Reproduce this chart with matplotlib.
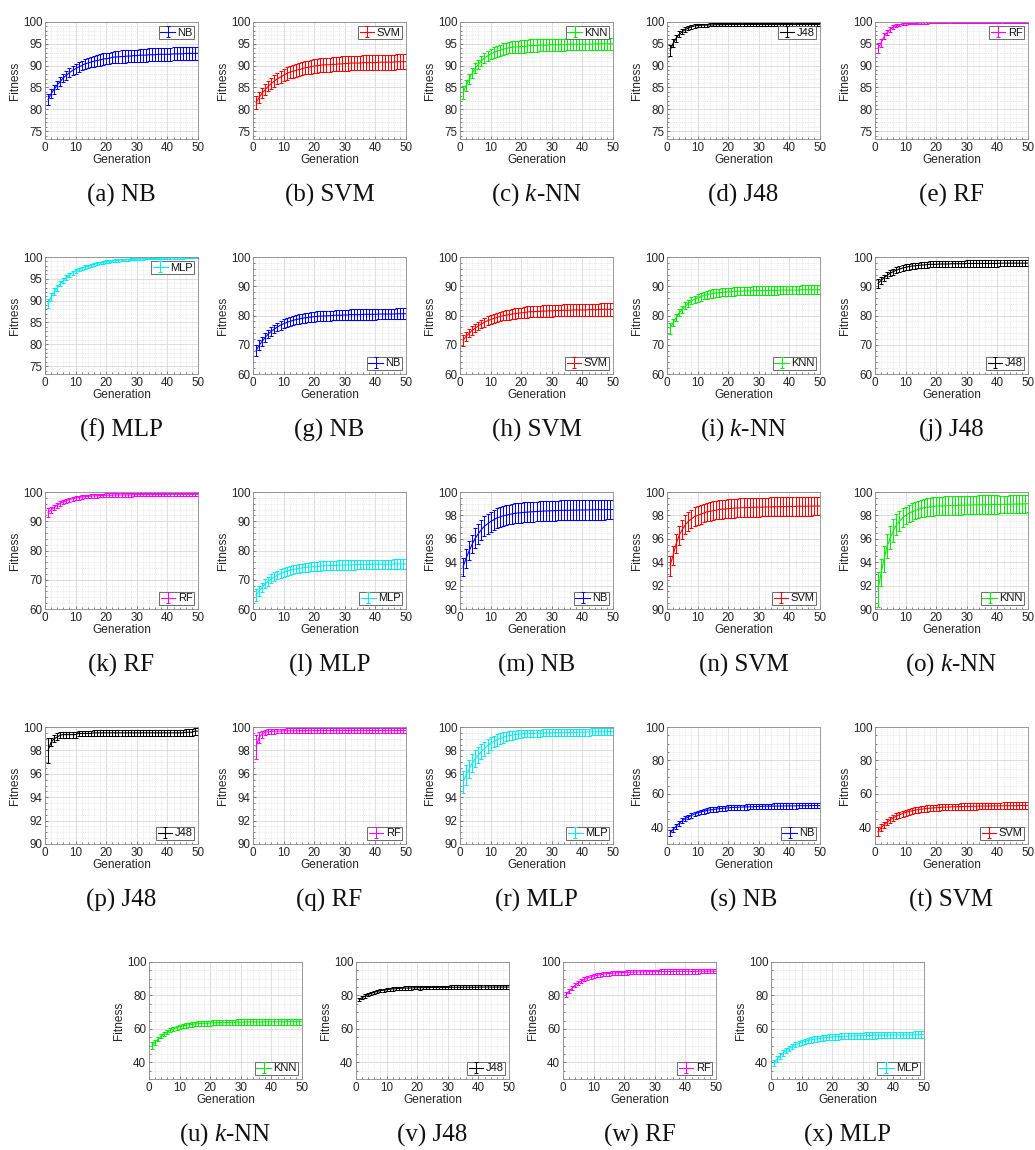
import matplotlib
matplotlib.use("Agg")
import matplotlib.pyplot as plt
from matplotlib.ticker import MultipleLocator
import numpy as np

plt.rcParams['font.family'] = ['Liberation Sans', 'DejaVu Sans']
plt.rcParams['mathtext.fontset'] = 'custom'
plt.rcParams['mathtext.it'] = 'Liberation Serif:italic'
plt.rcParams['mathtext.rm'] = 'Liberation Serif'

generations = list(range(1, 51))

# ---- mean fitness and spread per generation, one pair per panel ----
a_mean = [82.2,83.6,84.6,85.6,86.4,87.2,87.8,88.4,88.9,89.3,89.7,90.0,90.4,90.6,90.8,91.0,91.2,91.3,91.5,91.6,91.7,91.9,92.0,92.0,92.1,92.1,92.2,92.2,92.3,92.3,92.4,92.4,92.4,92.5,92.5,92.5,92.6,92.6,92.6,92.6,92.6,92.7,92.7,92.7,92.7,92.8,92.8,92.8,92.8,92.8]
a_err = [1.3,1.1,1.0,1.0,1.0,1.0,1.0,1.1,1.1,1.1,1.1,1.1,1.2,1.2,1.2,1.2,1.3,1.3,1.3,1.3,1.3,1.3,1.4,1.4,1.4,1.4,1.4,1.4,1.4,1.4,1.5,1.5,1.5,1.5,1.5,1.5,1.5,1.5,1.5,1.5,1.5,1.5,1.5,1.5,1.5,1.5,1.5,1.5,1.5,1.5]

b_mean = [81.5,82.7,83.7,84.5,85.3,85.9,86.5,87.0,87.4,87.8,88.2,88.5,88.7,88.9,89.1,89.3,89.5,89.6,89.8,89.9,90.0,90.1,90.2,90.2,90.2,90.3,90.3,90.4,90.4,90.5,90.5,90.6,90.6,90.6,90.6,90.7,90.7,90.7,90.7,90.7,90.8,90.8,90.8,90.8,90.8,90.8,90.9,90.9,90.9,90.9]
b_err = [1.5,1.3,1.2,1.2,1.2,1.3,1.3,1.3,1.4,1.4,1.4,1.4,1.5,1.5,1.5,1.5,1.5,1.5,1.6,1.6,1.6,1.6,1.6,1.6,1.6,1.6,1.6,1.6,1.7,1.7,1.7,1.7,1.7,1.7,1.7,1.7,1.7,1.7,1.7,1.7,1.7,1.7,1.7,1.7,1.7,1.7,1.7,1.7,1.7,1.7]

c_mean = [83.8,85.5,86.9,88.3,89.4,90.3,91.1,91.8,92.2,92.7,93.0,93.3,93.5,93.8,93.9,94.1,94.2,94.3,94.3,94.4,94.4,94.5,94.6,94.6,94.6,94.7,94.7,94.7,94.7,94.8,94.8,94.8,94.8,94.8,94.9,94.9,94.9,94.9,94.9,94.9,94.9,94.9,94.9,95.0,95.0,95.0,95.0,95.0,95.0,95.0]
c_err = [1.5,1.2,1.1,1.1,1.1,1.1,1.2,1.2,1.2,1.2,1.3,1.3,1.3,1.3,1.3,1.3,1.4,1.4,1.4,1.4,1.4,1.4,1.4,1.4,1.4,1.4,1.4,1.4,1.4,1.4,1.4,1.4,1.4,1.4,1.4,1.4,1.4,1.4,1.4,1.4,1.4,1.4,1.4,1.4,1.4,1.4,1.4,1.4,1.4,1.4]

d_mean = [93.5,95.1,96.3,97.2,97.8,98.3,98.6,98.9,99.1,99.2,99.25,99.3,99.3,99.35,99.35,99.4,99.4,99.4,99.4,99.45,99.45,99.45,99.45,99.45,99.45,99.45,99.45,99.45,99.45,99.45,99.45,99.45,99.45,99.45,99.45,99.45,99.45,99.45,99.45,99.45,99.45,99.45,99.45,99.45,99.45,99.45,99.45,99.45,99.45,99.45]
d_err = [1.2,0.9,0.8,0.7,0.6,0.5,0.45,0.4,0.4,0.35,0.35,0.35,0.35,0.35,0.35,0.35,0.35,0.35,0.35,0.35,0.35,0.35,0.35,0.35,0.35,0.35,0.35,0.35,0.35,0.35,0.35,0.35,0.35,0.35,0.35,0.35,0.35,0.35,0.35,0.35,0.35,0.35,0.35,0.35,0.35,0.35,0.35,0.35,0.35,0.35]

e_mean = [94.0,95.2,96.7,97.6,98.3,98.8,99.15,99.35,99.5,99.6,99.65,99.7,99.72,99.75,99.78,99.8,99.8,99.82,99.83,99.84,99.85,99.85,99.86,99.86,99.87,99.87,99.87,99.88,99.88,99.88,99.88,99.89,99.89,99.89,99.89,99.89,99.89,99.9,99.9,99.9,99.9,99.9,99.9,99.9,99.9,99.9,99.9,99.9,99.9,99.9]
e_err = [1.2,0.9,0.7,0.6,0.5,0.4,0.35,0.3,0.25,0.2,0.2,0.15,0.15,0.15,0.15,0.15,0.15,0.12,0.12,0.12,0.12,0.12,0.12,0.12,0.1,0.1,0.1,0.1,0.1,0.1,0.1,0.1,0.1,0.1,0.1,0.1,0.1,0.1,0.1,0.1,0.1,0.1,0.1,0.1,0.1,0.1,0.1,0.1,0.1,0.1]

f_mean = [89.3,90.8,92.0,93.0,93.9,94.6,95.3,95.9,96.4,96.8,97.1,97.4,97.7,97.9,98.1,98.3,98.5,98.6,98.75,98.9,99.0,99.1,99.2,99.25,99.3,99.35,99.4,99.45,99.5,99.55,99.6,99.6,99.65,99.65,99.7,99.7,99.7,99.75,99.75,99.75,99.8,99.8,99.8,99.8,99.8,99.85,99.85,99.85,99.85,99.85]
f_err = [1.0,0.9,0.8,0.7,0.65,0.6,0.55,0.5,0.45,0.45,0.4,0.4,0.4,0.35,0.35,0.35,0.3,0.3,0.3,0.3,0.3,0.3,0.3,0.3,0.3,0.25,0.25,0.25,0.25,0.25,0.2,0.2,0.2,0.2,0.2,0.2,0.2,0.2,0.2,0.2,0.15,0.15,0.15,0.15,0.15,0.15,0.15,0.15,0.15,0.15]

g_mean = [68.0,69.8,71.2,72.5,73.7,74.6,75.4,76.1,76.7,77.2,77.6,78.0,78.3,78.6,78.8,79.0,79.2,79.3,79.5,79.6,79.7,79.8,79.8,79.9,79.9,80.0,80.1,80.1,80.1,80.2,80.2,80.3,80.3,80.3,80.3,80.4,80.4,80.4,80.4,80.4,80.5,80.5,80.5,80.5,80.5,80.5,80.6,80.6,80.6,80.6]
g_err = [2.0,1.7,1.6,1.5,1.5,1.5,1.5,1.5,1.5,1.5,1.5,1.5,1.6,1.6,1.6,1.6,1.6,1.6,1.7,1.7,1.7,1.7,1.7,1.7,1.7,1.7,1.7,1.7,1.7,1.7,1.8,1.8,1.8,1.8,1.8,1.8,1.8,1.8,1.8,1.8,1.8,1.8,1.8,1.8,1.8,1.8,1.8,1.8,1.8,1.8]

h_mean = [71.5,72.9,73.9,74.9,75.7,76.5,77.1,77.7,78.2,78.6,79.0,79.3,79.7,79.9,80.1,80.3,80.5,80.6,80.8,80.9,81.0,81.2,81.3,81.3,81.4,81.4,81.5,81.5,81.6,81.6,81.7,81.7,81.7,81.8,81.8,81.8,81.9,81.9,81.9,81.9,81.9,82.0,82.0,82.0,82.0,82.1,82.1,82.1,82.1,82.1]
h_err = [1.8,1.5,1.4,1.4,1.4,1.4,1.4,1.5,1.5,1.5,1.5,1.6,1.6,1.6,1.7,1.7,1.7,1.8,1.8,1.8,1.8,1.9,1.9,1.9,1.9,1.9,2.0,2.0,2.0,2.0,2.0,2.0,2.0,2.0,2.0,2.0,2.0,2.0,2.0,2.0,2.1,2.1,2.1,2.1,2.1,2.1,2.1,2.1,2.1,2.1]

i_mean = [75.6,77.6,79.3,80.9,82.2,83.3,84.2,85.0,85.5,86.0,86.4,86.8,87.1,87.4,87.5,87.7,87.8,87.9,88.0,88.1,88.1,88.2,88.3,88.3,88.4,88.4,88.4,88.5,88.5,88.5,88.5,88.6,88.6,88.6,88.6,88.6,88.7,88.7,88.7,88.7,88.7,88.7,88.7,88.8,88.8,88.8,88.8,88.8,88.8,88.8]
i_err = [1.8,1.3,1.2,1.2,1.2,1.2,1.2,1.2,1.2,1.3,1.3,1.3,1.3,1.3,1.4,1.4,1.4,1.4,1.4,1.4,1.4,1.4,1.4,1.4,1.4,1.5,1.5,1.5,1.5,1.5,1.5,1.5,1.5,1.5,1.5,1.5,1.5,1.5,1.5,1.5,1.5,1.5,1.5,1.5,1.5,1.5,1.5,1.5,1.5,1.5]

j_mean = [91.0,92.0,92.9,93.8,94.5,95.0,95.5,95.9,96.2,96.5,96.7,96.9,97.0,97.1,97.2,97.3,97.4,97.5,97.5,97.5,97.6,97.6,97.6,97.6,97.7,97.7,97.7,97.7,97.7,97.8,97.8,97.8,97.8,97.8,97.8,97.8,97.8,97.8,97.8,97.8,97.9,97.9,97.9,97.9,97.9,97.9,97.9,97.9,97.9,97.9]
j_err = [1.5,1.2,1.1,1.0,1.0,1.0,1.0,1.0,1.0,1.0,1.0,1.0,1.0,1.0,1.0,1.0,1.0,1.0,1.0,1.0,1.0,1.0,1.0,1.0,1.0,1.1,1.1,1.1,1.1,1.1,1.1,1.1,1.1,1.1,1.1,1.1,1.1,1.1,1.1,1.1,1.1,1.1,1.1,1.1,1.1,1.1,1.1,1.1,1.1,1.1]

k_mean = [93.0,93.9,94.7,95.5,96.1,96.6,97.0,97.4,97.7,97.9,98.1,98.3,98.4,98.5,98.6,98.7,98.7,98.8,98.8,98.9,98.9,98.9,99.0,99.0,99.0,99.0,99.0,99.0,99.1,99.1,99.1,99.1,99.1,99.1,99.1,99.1,99.1,99.1,99.1,99.2,99.2,99.2,99.2,99.2,99.2,99.2,99.2,99.2,99.2,99.2]
k_err = [1.4,1.0,0.9,0.8,0.8,0.8,0.7,0.7,0.7,0.7,0.7,0.7,0.6,0.6,0.6,0.6,0.6,0.6,0.6,0.6,0.6,0.6,0.6,0.6,0.6,0.6,0.6,0.6,0.6,0.6,0.6,0.6,0.6,0.6,0.6,0.6,0.6,0.6,0.6,0.6,0.6,0.6,0.6,0.6,0.6,0.6,0.6,0.6,0.6,0.6]

l_mean = [64.7,66.2,67.4,68.6,69.5,70.3,71.0,71.6,72.1,72.5,72.9,73.2,73.5,73.7,73.9,74.0,74.2,74.3,74.4,74.5,74.6,74.7,74.8,74.8,74.8,74.9,74.9,75.0,75.0,75.0,75.1,75.1,75.1,75.2,75.2,75.2,75.2,75.2,75.3,75.3,75.3,75.3,75.3,75.3,75.3,75.4,75.4,75.4,75.4,75.4]
l_err = [2.1,1.6,1.5,1.5,1.5,1.5,1.5,1.5,1.5,1.5,1.5,1.5,1.5,1.5,1.5,1.5,1.5,1.5,1.5,1.5,1.6,1.6,1.6,1.6,1.6,1.6,1.6,1.6,1.6,1.6,1.6,1.6,1.6,1.6,1.6,1.6,1.6,1.6,1.6,1.6,1.6,1.6,1.6,1.6,1.6,1.6,1.6,1.6,1.6,1.6]

m_mean = [93.60,94.34,94.97,95.56,96.05,96.44,96.79,97.08,97.28,97.47,97.62,97.77,97.86,97.96,98.01,98.08,98.13,98.18,98.21,98.23,98.26,98.28,98.30,98.32,98.33,98.35,98.36,98.38,98.39,98.40,98.41,98.42,98.43,98.43,98.44,98.44,98.45,98.45,98.46,98.46,98.47,98.47,98.48,98.48,98.49,98.49,98.49,98.50,98.50,98.50]
m_err = [0.8,0.8,0.8,0.8,0.85,0.85,0.85,0.85,0.85,0.85,0.85,0.85,0.85,0.85,0.85,0.85,0.85,0.85,0.85,0.85,0.85,0.85,0.85,0.85,0.85,0.85,0.85,0.85,0.85,0.85,0.85,0.85,0.85,0.85,0.85,0.85,0.85,0.85,0.85,0.85,0.85,0.85,0.85,0.85,0.85,0.85,0.85,0.85,0.85,0.85]

n_mean = [93.7,94.6,95.6,96.3,96.8,97.2,97.5,97.7,97.9,98.0,98.1,98.2,98.3,98.35,98.4,98.45,98.5,98.52,98.55,98.58,98.6,98.62,98.63,98.65,98.66,98.67,98.68,98.69,98.7,98.7,98.71,98.72,98.72,98.73,98.74,98.74,98.75,98.75,98.76,98.76,98.77,98.77,98.78,98.78,98.78,98.79,98.79,98.8,98.8,98.8]
n_err = [0.85,0.8,0.8,0.8,0.8,0.8,0.8,0.8,0.8,0.8,0.8,0.8,0.8,0.8,0.8,0.8,0.8,0.8,0.8,0.8,0.8,0.8,0.8,0.8,0.8,0.8,0.8,0.8,0.8,0.8,0.8,0.8,0.8,0.8,0.8,0.8,0.8,0.8,0.8,0.8,0.8,0.8,0.8,0.8,0.8,0.8,0.8,0.8,0.8,0.8]

o_mean = [91.7,93.1,94.3,95.4,96.1,96.7,97.2,97.5,97.8,98.0,98.15,98.3,98.4,98.5,98.6,98.65,98.7,98.72,98.75,98.8,98.8,98.81,98.82,98.83,98.84,98.85,98.86,98.87,98.88,98.88,98.89,98.9,98.9,98.91,98.91,98.92,98.92,98.93,98.93,98.94,98.94,98.95,98.95,98.96,98.96,98.97,98.97,98.98,98.99,99.0]
o_err = [1.5,1.15,1.1,1.0,1.0,0.95,0.9,0.85,0.8,0.75,0.75,0.75,0.75,0.75,0.75,0.75,0.75,0.8,0.8,0.8,0.8,0.8,0.8,0.8,0.8,0.8,0.8,0.8,0.8,0.8,0.8,0.8,0.8,0.8,0.8,0.8,0.8,0.8,0.8,0.8,0.75,0.75,0.75,0.75,0.75,0.75,0.75,0.75,0.75,0.75]

p_mean = [98.0,98.7,99.0,99.15,99.3,99.35,99.35,99.35,99.35,99.35,99.45,99.45,99.45,99.45,99.45,99.5,99.5,99.5,99.5,99.5,99.5,99.5,99.5,99.5,99.5,99.5,99.5,99.5,99.5,99.5,99.5,99.5,99.5,99.5,99.5,99.5,99.5,99.5,99.5,99.5,99.5,99.5,99.5,99.5,99.5,99.55,99.55,99.55,99.65,99.65]
p_err = [1.05,0.35,0.3,0.3,0.25,0.25,0.25,0.25,0.25,0.25,0.25,0.25,0.25,0.25,0.25,0.25,0.25,0.25,0.25,0.25,0.25,0.25,0.25,0.25,0.25,0.25,0.25,0.25,0.25,0.25,0.25,0.25,0.25,0.25,0.25,0.25,0.25,0.25,0.25,0.25,0.25,0.25,0.25,0.25,0.25,0.3,0.3,0.3,0.3,0.3]

q_mean = [98.3,99.1,99.4,99.55,99.6,99.62,99.64,99.65,99.66,99.67,99.68,99.68,99.68,99.69,99.69,99.69,99.69,99.7,99.7,99.7,99.7,99.7,99.7,99.7,99.7,99.7,99.7,99.7,99.7,99.7,99.7,99.7,99.7,99.7,99.7,99.7,99.7,99.7,99.7,99.7,99.7,99.7,99.7,99.7,99.7,99.7,99.7,99.7,99.7,99.7]
q_err = [1.05,0.45,0.3,0.2,0.2,0.2,0.2,0.2,0.2,0.2,0.2,0.2,0.2,0.2,0.2,0.2,0.2,0.2,0.2,0.2,0.2,0.2,0.2,0.2,0.2,0.2,0.2,0.2,0.2,0.2,0.2,0.2,0.2,0.2,0.2,0.2,0.2,0.2,0.2,0.2,0.2,0.2,0.2,0.2,0.2,0.2,0.2,0.2,0.2,0.2]

r_mean = [95.3,95.9,96.4,96.9,97.3,97.6,97.9,98.15,98.4,98.6,98.75,98.9,99.0,99.1,99.2,99.25,99.3,99.35,99.38,99.4,99.42,99.44,99.45,99.46,99.47,99.48,99.49,99.5,99.5,99.51,99.52,99.52,99.53,99.53,99.54,99.54,99.55,99.55,99.56,99.56,99.57,99.57,99.58,99.58,99.58,99.59,99.59,99.6,99.6,99.6]
r_err = [0.9,0.85,0.8,0.75,0.7,0.7,0.65,0.6,0.6,0.55,0.5,0.5,0.45,0.45,0.4,0.4,0.4,0.35,0.35,0.35,0.3,0.3,0.3,0.3,0.3,0.3,0.3,0.3,0.3,0.3,0.3,0.3,0.3,0.3,0.3,0.3,0.3,0.3,0.3,0.3,0.3,0.3,0.3,0.3,0.3,0.3,0.3,0.3,0.3,0.3]

s_mean = [36.5,38.8,40.7,42.4,43.9,45.2,46.2,47.1,47.9,48.6,49.1,49.6,50.0,50.4,50.6,50.9,51.1,51.3,51.5,51.6,51.8,51.9,52.0,52.1,52.1,52.2,52.3,52.3,52.4,52.5,52.5,52.6,52.6,52.6,52.7,52.7,52.7,52.7,52.8,52.8,52.8,52.8,52.9,52.9,52.9,52.9,53.0,53.0,53.0,53.0]
s_err = [2.0,1.6,1.5,1.4,1.4,1.4,1.4,1.4,1.4,1.4,1.4,1.4,1.5,1.5,1.5,1.5,1.5,1.5,1.5,1.5,1.5,1.5,1.5,1.5,1.5,1.6,1.6,1.6,1.6,1.6,1.6,1.6,1.6,1.6,1.6,1.6,1.6,1.6,1.6,1.6,1.6,1.6,1.6,1.6,1.6,1.6,1.6,1.6,1.6,1.6]

t_mean = [37.5,39.7,41.5,43.1,44.5,45.6,46.7,47.5,48.2,48.8,49.4,49.8,50.2,50.5,50.8,51.0,51.3,51.4,51.6,51.7,51.8,52.0,52.1,52.1,52.2,52.3,52.3,52.4,52.4,52.5,52.5,52.6,52.6,52.7,52.7,52.7,52.7,52.8,52.8,52.8,52.8,52.9,52.9,52.9,52.9,52.9,53.0,53.0,53.0,53.0]
t_err = [2.5,2.0,1.8,1.8,1.8,1.8,1.8,1.8,1.8,1.8,1.8,1.8,1.8,1.8,1.8,1.9,1.9,1.9,1.9,1.9,1.9,1.9,1.9,1.9,1.9,1.9,1.9,1.9,1.9,1.9,2.0,2.0,2.0,2.0,2.0,2.0,2.0,2.0,2.0,2.0,2.0,2.0,2.0,2.0,2.0,2.0,2.0,2.0,2.0,2.0]

u_mean = [49.8,52.0,53.9,55.6,57.1,58.2,59.2,60.1,60.7,61.3,61.7,62.1,62.4,62.7,62.9,63.1,63.2,63.4,63.4,63.5,63.6,63.7,63.7,63.8,63.8,63.9,63.9,63.9,64.0,64.0,64.0,64.1,64.1,64.1,64.1,64.1,64.1,64.2,64.2,64.2,64.2,64.2,64.2,64.2,64.3,64.3,64.3,64.3,64.3,64.3]
u_err = [2.1,1.6,1.4,1.3,1.3,1.3,1.3,1.3,1.3,1.3,1.3,1.3,1.4,1.4,1.4,1.4,1.5,1.5,1.5,1.5,1.5,1.5,1.6,1.6,1.6,1.6,1.6,1.6,1.6,1.6,1.7,1.7,1.7,1.7,1.7,1.7,1.7,1.7,1.7,1.7,1.8,1.8,1.8,1.8,1.8,1.8,1.8,1.8,1.8,1.8]

v_mean = [77.5,78.6,79.6,80.5,81.3,81.9,82.4,82.8,83.1,83.4,83.7,83.9,84.0,84.2,84.3,84.4,84.4,84.5,84.6,84.6,84.6,84.7,84.7,84.7,84.8,84.8,84.8,84.8,84.8,84.8,84.9,84.9,84.9,84.9,84.9,84.9,84.9,84.9,84.9,84.9,85.0,85.0,85.0,85.0,85.0,85.0,85.0,85.0,85.0,85.0]
v_err = [1.1,1.0,1.0,1.0,1.0,1.0,1.0,1.0,1.0,1.0,1.0,1.0,1.0,1.0,1.0,1.0,1.0,1.0,1.0,1.0,1.1,1.1,1.1,1.1,1.1,1.1,1.1,1.1,1.1,1.1,1.1,1.1,1.1,1.1,1.1,1.2,1.2,1.2,1.2,1.2,1.2,1.2,1.2,1.2,1.2,1.2,1.2,1.2,1.2,1.2]

w_mean = [80.5,82.6,84.4,86.1,87.5,88.6,89.6,90.4,91.0,91.6,92.0,92.4,92.7,93.0,93.1,93.3,93.5,93.6,93.7,93.7,93.8,93.9,93.9,94.0,94.0,94.1,94.1,94.2,94.2,94.2,94.2,94.3,94.3,94.3,94.3,94.3,94.4,94.4,94.4,94.4,94.4,94.4,94.4,94.4,94.5,94.5,94.5,94.5,94.5,94.5]
w_err = [1.6,1.3,1.2,1.2,1.2,1.2,1.2,1.2,1.2,1.2,1.2,1.2,1.2,1.2,1.2,1.2,1.2,1.2,1.2,1.2,1.3,1.3,1.3,1.3,1.3,1.3,1.3,1.3,1.3,1.3,1.3,1.3,1.3,1.3,1.3,1.3,1.3,1.3,1.3,1.3,1.3,1.3,1.3,1.3,1.3,1.3,1.3,1.3,1.3,1.3]

x_mean = [39.5,41.9,43.8,45.6,47.2,48.4,49.5,50.5,51.2,51.9,52.5,53.0,53.4,53.8,54.0,54.3,54.6,54.8,55.0,55.1,55.2,55.4,55.5,55.6,55.6,55.7,55.8,55.8,55.9,55.9,56.0,56.0,56.1,56.1,56.2,56.2,56.2,56.2,56.3,56.3,56.3,56.3,56.4,56.4,56.4,56.4,56.5,56.5,56.5,56.5]
x_err = [2.0,1.7,1.6,1.6,1.6,1.6,1.6,1.6,1.6,1.6,1.7,1.7,1.7,1.7,1.7,1.7,1.7,1.7,1.8,1.8,1.8,1.8,1.8,1.8,1.8,1.8,1.8,1.8,1.9,1.9,1.9,1.9,1.9,1.9,1.9,1.9,1.9,1.9,1.9,1.9,2.0,2.0,2.0,2.0,2.0,2.0,2.0,2.0,2.0,2.0]

# ---- panel labels ----
panel_letters = list("abcdefghijklmnopqrstuvwx")
classifiers = ["NB", "SVM", "KNN", "J48", "RF", "MLP"] * 4
caption_names = {"NB": "NB", "SVM": "SVM", "KNN": r"$k$-NN", "J48": "J48", "RF": "RF", "MLP": "MLP"}
classifier_colors = {"NB": "#0000ff", "SVM": "#ff0000", "KNN": "#00ee00",
                     "J48": "#000000", "RF": "#ff00ff", "MLP": "#00eeee"}

means = [a_mean, b_mean, c_mean, d_mean, e_mean, f_mean, g_mean, h_mean,
         i_mean, j_mean, k_mean, l_mean, m_mean, n_mean, o_mean, p_mean,
         q_mean, r_mean, s_mean, t_mean, u_mean, v_mean, w_mean, x_mean]
errs = [a_err, b_err, c_err, d_err, e_err, f_err, g_err, h_err,
        i_err, j_err, k_err, l_err, m_err, n_err, o_err, p_err,
        q_err, r_err, s_err, t_err, u_err, v_err, w_err, x_err]

# y-axis settings per dataset group (limits, major step, minor step, first tick)
group_axes = [
    ((73.2, 100), 5, 1, 75),
    ((60, 100), 10, 2, 60),
    ((90, 100), 2, 0.5, 90),
    ((30, 100), 20, 5, 40),
]

# ---- layout in pixels ----
W, H = 1035, 1150
fig = plt.figure(figsize=(W / 100, H / 100), dpi=100)

ax_w, ax_h = 153, 117
row_tops = [22, 257, 492, 727, 962]
col_lefts = [45, 253, 460, 667, 875]
last_row_lefts = [149, 356, 563, 771]

tick_col = "#262626"
for idx in range(24):
    row, col = divmod(idx, 5)
    left = last_row_lefts[col] if row == 4 else col_lefts[col]
    top = row_tops[row]
    ax = fig.add_axes([left / W, 1 - (top + ax_h) / H, ax_w / W, ax_h / H])

    name = classifiers[idx]
    color = classifier_colors[name]
    ylim, major, minor, first = group_axes[idx // 6]

    ax.errorbar(generations, means[idx], yerr=errs[idx], color=color,
                lw=0.8, elinewidth=0.75, capsize=1.6, capthick=0.75, label=name)

    ax.set_xlim(0, 50)
    ax.set_ylim(*ylim)
    ax.set_xticks(np.arange(0, 51, 10))
    ax.xaxis.set_minor_locator(MultipleLocator(2))
    ax.set_yticks(np.arange(first, ylim[1] + 0.01, major))
    ax.yaxis.set_minor_locator(MultipleLocator(minor))
    ax.grid(which="major", color="#d8d8d8", lw=0.6)
    ax.grid(which="minor", color="#e2e2e2", lw=0.5, ls=(0, (1.5, 1.5)))
    ax.set_axisbelow(True)
    for sp in ax.spines.values():
        sp.set_color("#8a8a8a")
        sp.set_linewidth(0.6)
    ax.tick_params(which="both", direction="in", color="#555555", width=0.5,
                   labelsize=8.4, labelcolor=tick_col, pad=2)
    ax.tick_params(which="major", length=2.5)
    ax.tick_params(which="minor", length=1.2)
    ax.set_xlabel("Generation", fontsize=8.6, color=tick_col, labelpad=0.3)
    ax.set_ylabel("Fitness", fontsize=8.6, color=tick_col, labelpad=1)

    loc = "upper right" if idx < 6 else "lower right"
    leg = ax.legend(loc=loc, fontsize=8, handlelength=1.3, handletextpad=0.2,
                    borderpad=0.15, borderaxespad=0.35, fancybox=False,
                    framealpha=1, edgecolor="#555555")
    leg.get_frame().set_linewidth(0.6)
    for t in leg.get_texts():
        t.set_color("#111111")

    cx = (left + ax_w / 2) / W
    cy = 1 - (top + ax_h + 56) / H
    fig.text(cx, cy, f"({panel_letters[idx]}) {caption_names[name]}",
             ha="center", va="center", fontsize=18, family="Liberation Serif",
             color="#111111")

fig.savefig("out.png", dpi=100)
